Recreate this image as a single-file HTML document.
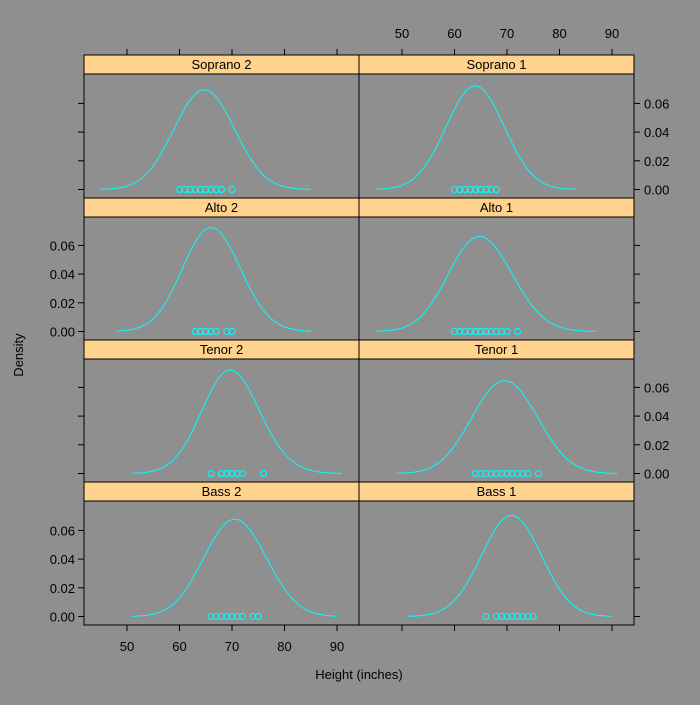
<!DOCTYPE html>
<html><head><meta charset="utf-8"><style>
html,body{margin:0;padding:0;background:#8f8f8f;}
svg text{font-family:"Liberation Sans",sans-serif;font-size:13px;fill:#000;}
</style></head><body>
<svg id="c" width="700" height="700" xmlns="http://www.w3.org/2000/svg">
<rect width="700" height="700" fill="#8f8f8f"/>
</svg>
<script>
const panelNames = ["Soprano 2","Soprano 1","Alto 2","Alto 1","Tenor 2","Tenor 1","Bass 2","Bass 1"];
const heightsSoprano2 = [60,61,62,62,63,64,64,65,65,66,66,67,68,68,70];
const heightsSoprano1 = [60,61,61,62,62,63,64,64,65,65,65,66,66,67,68];
const heightsAlto2 = [63,64,64,65,65,65,66,66,67,69,70,70];
const heightsAlto1 = [60,61,61,62,63,63,64,64,65,65,66,66,67,68,69,70,72];
const heightsTenor2 = [66,68,68,69,69,70,70,70,71,72,76];
const heightsTenor1 = [64,65,66,67,68,69,70,70,71,72,73,74,76];
const heightsBass2 = [66,67,68,69,70,70,71,72,74,75,75];
const heightsBass1 = [66,68,69,69,70,71,72,72,73,74,75];
const panelData = [heightsSoprano2,heightsSoprano1,heightsAlto2,heightsAlto1,heightsTenor2,heightsTenor1,heightsBass2,heightsBass1];
const xTicks = [50,60,70,80,90];
const yTicks = [0,0.02,0.04,0.06];
const bandwidth = 5;

const NS="http://www.w3.org/2000/svg", svg=document.getElementById('c');
function mk(t,a,p){const e=document.createElementNS(NS,t);for(const k in a)e.setAttribute(k,a[k]);(p||svg).appendChild(e);return e;}
const colX=[84,359], W=275, rowTop=[55,198,340,482], stripH=19, panelBottom=[198,340,482,625];
function xs(v,col){return colX[col]+43+(v-50)*5.25;}
function ys(v,row){return panelBottom[row]-8.5-v/0.02*28.7;}

for(let i=0;i<8;i++){
  const row=Math.floor(i/2), col=i%2, x0=colX[col], top=rowTop[row];
  const g=mk('g',{});  
  const s=mk('rect',{x:x0,y:top,width:W,height:stripH,fill:'#ffd28e',stroke:'#000'},g);
   
  const t=mk('text',{x:x0+W/2,y:top+14,'text-anchor':'middle'},g); t.textContent=panelNames[i];
   
  const d=panelData[i], n=d.length, mn=Math.min(...d), mx=Math.max(...d);
  let pts=[];
  for(let k=0;k<=100;k++){const v=mn-3*bandwidth+(mx-mn+6*bandwidth)*k/100;let den=0;for(const h of d)den+=Math.exp(-0.5*((v-h)/bandwidth)**2);den/=n*bandwidth*Math.sqrt(2*Math.PI);pts.push(xs(v,col).toFixed(1)+','+ys(den,row).toFixed(1));}
  const pl=mk('polyline',{points:pts.join(' '),fill:'none',stroke:'#00ffff','stroke-width':1},g);
   
  for(const h of d){const c=mk('circle',{cx:xs(h,col),cy:ys(0,row),r:3,fill:'none',stroke:'#00ffff'},g);
     }
}
const fr=mk('rect',{x:84,y:55,width:550,height:570,fill:'none',stroke:'#000'});
 
mk('line',{x1:359,y1:55,x2:359,y2:625,stroke:'#000'});
for(let col=0;col<2;col++)for(const v of xTicks){
  const x=xs(v,col);
  mk('line',{x1:x,y1:55,x2:x,y2:49,stroke:'#000'});
  mk('line',{x1:x,y1:625,x2:x,y2:631,stroke:'#000'});
  if(col===1){const t=mk('text',{x:x,y:38,'text-anchor':'middle'});t.textContent=v;}
  else{const t=mk('text',{x:x,y:651,'text-anchor':'middle'});t.textContent=v;}
}
for(let row=0;row<4;row++)for(const v of yTicks){
  const y=ys(v,row), leftLab=(row%2===1);
  mk('line',{x1:84,y1:y,x2:78,y2:y,stroke:'#000'});
  mk('line',{x1:634,y1:y,x2:640,y2:y,stroke:'#000'});
  const t=leftLab?mk('text',{x:75,y:y+5,'text-anchor':'end'}):mk('text',{x:644,y:y+5,'text-anchor':'start'});
  t.textContent=v.toFixed(2);
   
}
const xt=mk('text',{x:359,y:679,'text-anchor':'middle','font-size':'14'});xt.textContent='Height (inches)';

const yt=mk('text',{x:23,y:355,'text-anchor':'middle','font-size':'14',transform:'rotate(-90 23 355)'});yt.textContent='Density';

</script>
</body></html>
